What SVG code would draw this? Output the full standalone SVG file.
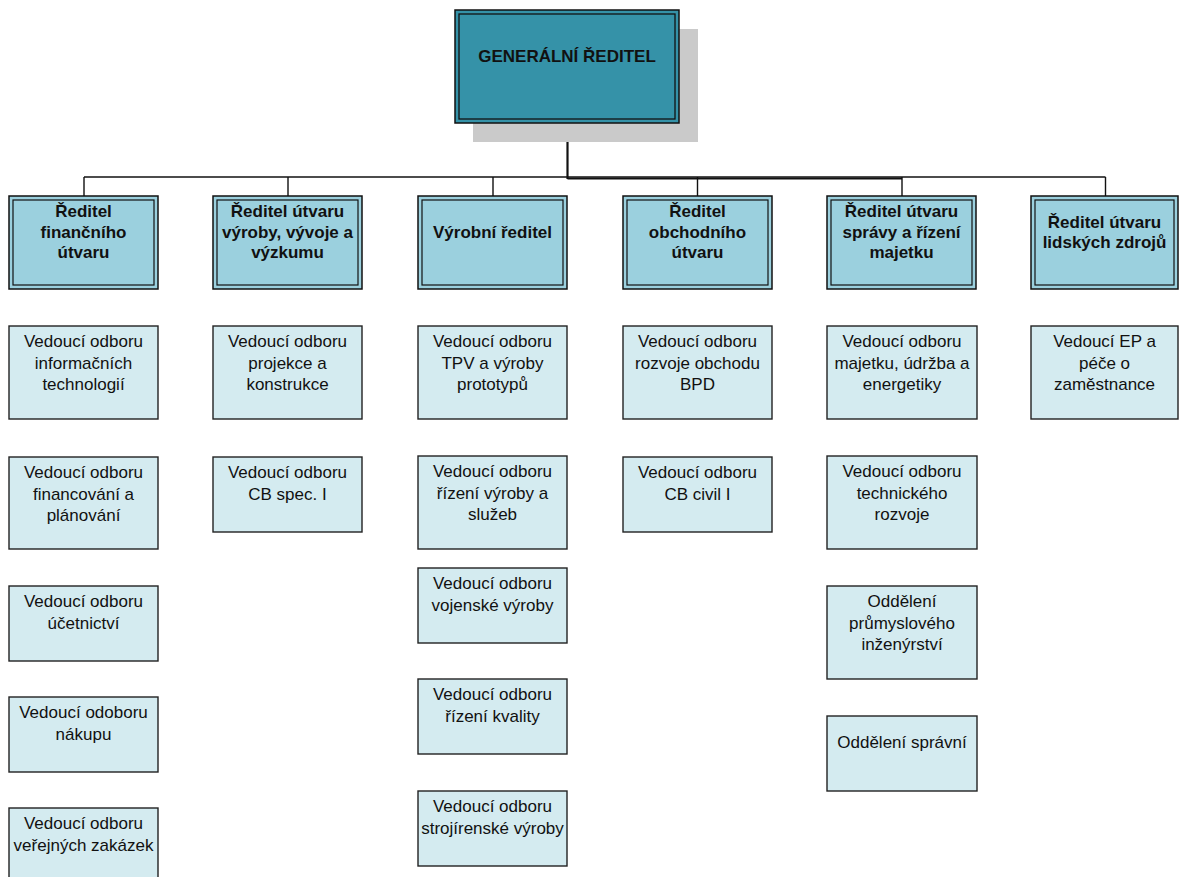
<svg xmlns="http://www.w3.org/2000/svg" width="1179" height="877" viewBox="0 0 1179 877">
<style>
.top{fill:#3592A8;stroke:#111;stroke-width:1.5}
.topin{fill:none;stroke:#111;stroke-width:1.3}
.shadow{fill:#CACACA}
.hd{fill:#9BD0DE;stroke:#111;stroke-width:1.5}
.hdin{fill:none;stroke:#111;stroke-width:1.2}
.ch{fill:#D4EBF0;stroke:#222;stroke-width:1.4}
.tb{font-family:"Liberation Sans",Arial,sans-serif;font-size:17px;font-weight:bold;fill:#111;text-anchor:middle}
.t{font-family:"Liberation Sans",Arial,sans-serif;font-size:17px;fill:#111;text-anchor:middle}
.c{fill:none;stroke:#111;stroke-width:1.4}
.ct{fill:none;stroke:#111;stroke-width:2.2}
</style>
<rect width="1179" height="877" fill="#fff"/>
<g id="connectors">
<path class="ct" d="M567.5,123 V179"/>
<path class="c" d="M84,177 H1105.5"/>
<path class="ct" d="M567.5,178.5 H902"/>
<path class="c" d="M84,177 V196 M288,177 V196 M493,177 V196 M697.5,177 V196 M902,177 V196 M1105.5,177 V196"/>
</g>
<g id="gr">
<rect class="shadow" x="473" y="29" width="225" height="113"/>
<rect class="top" x="455" y="10" width="224" height="113"/>
<rect class="topin" x="459" y="14" width="216" height="105"/>
<text class="tb" x="567" y="62">GENERÁLNÍ ŘEDITEL</text>
</g>
<g id="h1"><rect class="hd" x="9" y="196" width="149" height="93"/><rect class="hdin" x="13" y="200" width="141" height="85"/>
<text class="tb" x="83.5" y="217">Ředitel</text><text class="tb" x="83.5" y="237.5">finančního</text><text class="tb" x="83.5" y="258">útvaru</text></g>
<g id="h2"><rect class="hd" x="213" y="196" width="149" height="93"/><rect class="hdin" x="217" y="200" width="141" height="85"/>
<text class="tb" x="287.5" y="217">Ředitel útvaru</text><text class="tb" x="287.5" y="237.5">výroby, vývoje a</text><text class="tb" x="287.5" y="258">výzkumu</text></g>
<g id="h3"><rect class="hd" x="418" y="196" width="149" height="93"/><rect class="hdin" x="422" y="200" width="141" height="85"/>
<text class="tb" x="492.5" y="238">Výrobní ředitel</text></g>
<g id="h4"><rect class="hd" x="623" y="196" width="149" height="93"/><rect class="hdin" x="627" y="200" width="141" height="85"/>
<text class="tb" x="697.5" y="217">Ředitel</text><text class="tb" x="697.5" y="237.5">obchodního</text><text class="tb" x="697.5" y="258">útvaru</text></g>
<g id="h5"><rect class="hd" x="827" y="196" width="149" height="93"/><rect class="hdin" x="831" y="200" width="141" height="85"/>
<text class="tb" x="901.5" y="217">Ředitel útvaru</text><text class="tb" x="901.5" y="237.5">správy a řízení</text><text class="tb" x="901.5" y="258">majetku</text></g>
<g id="h6"><rect class="hd" x="1031" y="196" width="147" height="93"/><rect class="hdin" x="1035" y="200" width="139" height="85"/>
<text class="tb" x="1104.5" y="227.5">Ředitel útvaru</text><text class="tb" x="1104.5" y="248">lidských zdrojů</text></g>

<g id="c1a"><rect class="ch" x="9" y="326" width="149" height="93"/><text class="t" x="83.5" y="347">Vedoucí odboru</text><text class="t" x="83.5" y="368.5">informačních</text><text class="t" x="83.5" y="390">technologií</text></g>
<g id="c1b"><rect class="ch" x="9" y="457" width="149" height="92"/><text class="t" x="83.5" y="478">Vedoucí odboru</text><text class="t" x="83.5" y="499.5">financování a</text><text class="t" x="83.5" y="521">plánování</text></g>
<g id="c1c"><rect class="ch" x="9" y="586" width="149" height="75"/><text class="t" x="83.5" y="607">Vedoucí odboru</text><text class="t" x="83.5" y="628.5">účetnictví</text></g>
<g id="c1d"><rect class="ch" x="9" y="697" width="149" height="75"/><text class="t" x="83.5" y="718">Vedoucí odoboru</text><text class="t" x="83.5" y="739.5">nákupu</text></g>
<g id="c1e"><rect class="ch" x="9" y="808" width="149" height="75"/><text class="t" x="83.5" y="829">Vedoucí odboru</text><text class="t" x="83.5" y="850.5">veřejných zakázek</text></g>

<g id="c2a"><rect class="ch" x="213" y="326" width="149" height="93"/><text class="t" x="287.5" y="347">Vedoucí odboru</text><text class="t" x="287.5" y="368.5">projekce a</text><text class="t" x="287.5" y="390">konstrukce</text></g>
<g id="c2b"><rect class="ch" x="213" y="457" width="149" height="75"/><text class="t" x="287.5" y="478">Vedoucí odboru</text><text class="t" x="287.5" y="499.5">CB spec. I</text></g>

<g id="c3a"><rect class="ch" x="418" y="326" width="149" height="93"/><text class="t" x="492.5" y="347">Vedoucí odboru</text><text class="t" x="492.5" y="368.5">TPV a výroby</text><text class="t" x="492.5" y="390">prototypů</text></g>
<g id="c3b"><rect class="ch" x="418" y="456" width="149" height="93"/><text class="t" x="492.5" y="477">Vedoucí odboru</text><text class="t" x="492.5" y="498.5">řízení výroby a</text><text class="t" x="492.5" y="520">služeb</text></g>
<g id="c3c"><rect class="ch" x="418" y="568" width="149" height="75"/><text class="t" x="492.5" y="589">Vedoucí odboru</text><text class="t" x="492.5" y="610.5">vojenské výroby</text></g>
<g id="c3d"><rect class="ch" x="418" y="679" width="149" height="75"/><text class="t" x="492.5" y="700">Vedoucí odboru</text><text class="t" x="492.5" y="721.5">řízení kvality</text></g>
<g id="c3e"><rect class="ch" x="418" y="791" width="149" height="75"/><text class="t" x="492.5" y="812">Vedoucí odboru</text><text class="t" x="492.5" y="833.5">strojírenské výroby</text></g>

<g id="c4a"><rect class="ch" x="623" y="326" width="149" height="93"/><text class="t" x="697.5" y="347">Vedoucí odboru</text><text class="t" x="697.5" y="368.5">rozvoje obchodu</text><text class="t" x="697.5" y="390">BPD</text></g>
<g id="c4b"><rect class="ch" x="623" y="457" width="149" height="75"/><text class="t" x="697.5" y="478">Vedoucí odboru</text><text class="t" x="697.5" y="499.5">CB civil I</text></g>

<g id="c5a"><rect class="ch" x="827" y="326" width="150" height="93"/><text class="t" x="902" y="347">Vedoucí odboru</text><text class="t" x="902" y="368.5">majetku, údržba a</text><text class="t" x="902" y="390">energetiky</text></g>
<g id="c5b"><rect class="ch" x="827" y="456" width="150" height="93"/><text class="t" x="902" y="477">Vedoucí odboru</text><text class="t" x="902" y="498.5">technického</text><text class="t" x="902" y="520">rozvoje</text></g>
<g id="c5c"><rect class="ch" x="827" y="586" width="150" height="93"/><text class="t" x="902" y="607">Oddělení</text><text class="t" x="902" y="628.5">průmyslového</text><text class="t" x="902" y="650">inženýrství</text></g>
<g id="c5d"><rect class="ch" x="827" y="716" width="150" height="75"/><text class="t" x="902" y="748">Oddělení správní</text></g>

<g id="c6a"><rect class="ch" x="1031" y="326" width="147" height="93"/><text class="t" x="1104.5" y="347">Vedoucí EP a</text><text class="t" x="1104.5" y="368.5">péče o</text><text class="t" x="1104.5" y="390">zaměstnance</text></g>
</svg>
